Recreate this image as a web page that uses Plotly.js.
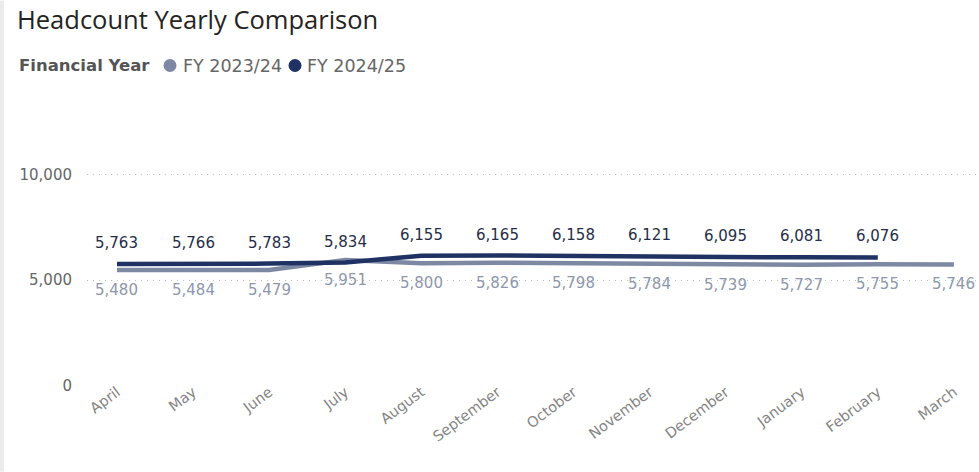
<!DOCTYPE html>
<html>
<head>
<meta charset="utf-8">
<script src="https://cdn.plot.ly/plotly-3.0.1.min.js"></script>
<style>
html,body{margin:0;padding:0;background:#fff;}
#chart{width:979px;height:472px;}
</style>
</head>
<body>
<div id="chart"></div>
<script>
const months = ["April","May","June","July","August","September","October","November","December","January","February","March"];
const fy2324 = [5480,5484,5479,5951,5800,5826,5798,5784,5739,5727,5755,5746];
const fy2425 = [5763,5766,5783,5834,6155,6165,6158,6121,6095,6081,6076];
const seriesNames = ["FY 2023/24","FY 2024/25"];
const legendTitle = "Financial Year";
const seriesColors = ["#7d88a3","#1f3263"];
const labelColors = ["#8e97ad","#252e48"];
const yTicks = [0,5000,10000];
const yTickText = ["0","5,000","10,000"];

const fmt = v => v.toLocaleString("en-US");
const font = "DejaVu Sans, Verdana, sans-serif";

// plot area geometry helpers (pixels -> paper)
const L = 87, PW = 892, B = 86, PH = 254.4;
const px = p => (p - L) / PW;
const py = p => (472 - B - p) / PH;

const traces = [
  {x: months, y: fy2324, type:"scatter", mode:"lines", name:seriesNames[0], line:{color:seriesColors[0], width:4.5}, cliponaxis:false},
  {x: months.slice(0, fy2425.length), y: fy2425, type:"scatter", mode:"lines", name:seriesNames[1], line:{color:seriesColors[1], width:4.5}, cliponaxis:false}
];

const annotations = [];
fy2324.forEach((v,i)=>annotations.push({x:months[i], y:v, xref:"x", yref:"y", text:fmt(v), showarrow:false, yshift:-20, font:{family:font, size:15, color:labelColors[0]}}));
fy2425.forEach((v,i)=>annotations.push({x:months[i], y:v, xref:"x", yref:"y", text:fmt(v), showarrow:false, yshift:21, font:{family:font, size:15, color:labelColors[1]}}));

// legend built as text + circle swatches
const legY = py(65);
annotations.push({xref:"paper", yref:"paper", x:px(17), y:legY, xanchor:"left", yanchor:"middle", showarrow:false, text:"<b>"+legendTitle+"</b>", font:{family:font, size:16.5, color:"#555555"}});
const legTextX = [181, 305];
const legDotX = [170, 295];
seriesNames.forEach((n,i)=>annotations.push({xref:"paper", yref:"paper", x:px(legTextX[i]), y:legY, xanchor:"left", yanchor:"middle", showarrow:false, text:n, font:{family:font, size:17.5, color:"#666666"}}));

const shapes = [{type:"rect", xref:"paper", yref:"paper", x0:px(0), x1:px(4), y0:py(472), y1:py(0), fillcolor:"#ebebeb", line:{width:0}, layer:"below"}];
seriesColors.forEach((c,i)=>shapes.push({type:"circle", xref:"paper", yref:"paper", xsizemode:"pixel", ysizemode:"pixel", xanchor:px(legDotX[i]), yanchor:legY, x0:-6.5, x1:6.5, y0:-6.5, y1:6.5, fillcolor:c, line:{width:0}}));

const layout = {
  width:979, height:472,
  margin:{l:L, r:0, t:472-B-PH, b:B, pad:0},
  paper_bgcolor:"#ffffff", plot_bgcolor:"#ffffff",
  showlegend:false,
  title:{text:"Headcount Yearly Comparison", x:17/979, xref:"container", xanchor:"left", y:1-20/472, yref:"container", yanchor:"middle", font:{family:"Open Sans, sans-serif", size:25.5, color:"#252423"}},
  xaxis:{type:"category", range:[-0.394, 11.33], showgrid:false, zeroline:false, showline:false, ticks:"", tickangle:-37, ticklabelstandoff:-6,
    tickfont:{family:font, size:14.5, color:"#858585"}, fixedrange:true},
  yaxis:{range:[0,12000], tickvals:yTicks, ticktext:yTickText, showgrid:true, gridcolor:"#bdbdbd", griddash:"1px,5px", gridwidth:1,
    zeroline:false, showline:false, ticks:"", ticklabelstandoff:14, tickfont:{family:font, size:15, color:"#666666"}, fixedrange:true},
  annotations: annotations,
  shapes: shapes
};

Plotly.newPlot("chart", traces, layout, {displayModeBar:false, staticPlot:true});
</script>
</body>
</html>
